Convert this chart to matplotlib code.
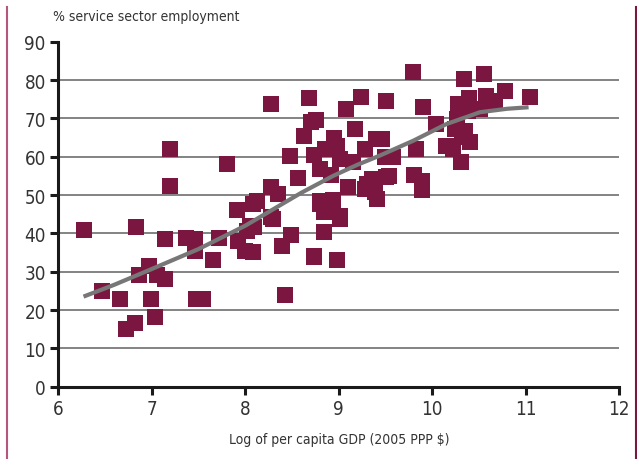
import matplotlib
matplotlib.use("Agg")
import matplotlib.pyplot as plt
from matplotlib import font_manager
from matplotlib.lines import Line2D

# pick a narrow face if one is installed (the original uses a condensed font)
names = {f.name for f in font_manager.fontManager.ttflist}
narrow = [f for f in font_manager.fontManager.ttflist
          if 'Narrow' in f.name or 'Condensed' in f.name or str(f.stretch) in ('condensed', 'semi-condensed', '700', '500')]
if 'Liberation Sans Narrow' in names:
    fam, stretch = 'Liberation Sans Narrow', 'normal'
elif narrow:
    fam, stretch = narrow[0].name, 'condensed'
else:
    fam, stretch = 'DejaVu Sans', 'normal'
plt.rcParams['font.family'] = [fam, 'DejaVu Sans']
plt.rcParams['font.stretch'] = stretch

# log per capita GDP vs % service sector employment
gdp = [6.28, 6.47, 6.66, 6.72, 6.82, 6.83, 6.86, 6.97, 6.99, 7.03, 7.06, 7.14,
       7.14, 7.19, 7.20, 7.37, 7.46, 7.46, 7.47, 7.55, 7.65, 7.72, 7.80, 7.91,
       7.92, 8.00, 8.02, 8.05, 8.08, 8.08, 8.09, 8.12, 8.27, 8.27, 8.27, 8.30,
       8.35, 8.39, 8.42, 8.48, 8.49, 8.56, 8.63, 8.68, 8.70, 8.73, 8.73, 8.74,
       8.76, 8.80, 8.80, 8.80, 8.84, 8.84, 8.85, 8.92, 8.94, 8.95, 8.98, 8.98,
       9.01, 9.01, 9.01, 9.08, 9.10, 9.15, 9.17, 9.24, 9.28, 9.28, 9.30, 9.35,
       9.39, 9.40, 9.41, 9.46, 9.49, 9.51, 9.51, 9.54, 9.58, 9.79, 9.80, 9.83,
       9.89, 9.89, 9.90, 10.04, 10.15, 10.22, 10.24, 10.26, 10.28, 10.31, 10.32,
       10.34, 10.35, 10.38, 10.39, 10.40, 10.51, 10.55, 10.57, 10.67, 10.78, 11.05]
service = [41.0, 25.0, 22.9, 15.1, 16.6, 41.7, 29.1, 31.4, 22.9, 18.3, 29.1, 28.1,
           38.5, 52.4, 62.0, 38.9, 38.5, 35.5, 22.9, 22.9, 33.1, 38.9, 58.1, 46.1,
           38.1, 35.5, 40.7, 42.0, 47.7, 35.2, 41.6, 48.5, 73.7, 52.0, 44.2, 43.7,
           50.3, 36.8, 23.9, 60.1, 39.6, 54.5, 65.5, 75.3, 69.0, 60.4, 34.0, 33.9,
           69.7, 56.8, 48.5, 47.7, 45.5, 40.3, 62.0, 55.1, 48.8, 64.9, 62.9, 33.1,
           59.4, 44.6, 43.7, 72.4, 52.0, 58.5, 67.2, 75.5, 62.0, 51.6, 52.9, 54.2,
           50.7, 64.6, 49.0, 64.6, 59.9, 74.6, 54.6, 54.9, 60.0, 82.2, 55.1, 62.0,
           53.7, 51.4, 73.0, 68.5, 62.7, 62.0, 67.2, 69.8, 73.8, 58.7, 65.1,
           80.3, 66.8, 72.0, 75.3, 63.8, 72.4, 81.6, 75.8, 74.6, 77.2, 75.7]

# fitted curve
trend_x = [6.27, 6.6, 7.0, 7.5, 8.0, 8.3, 8.6, 8.94, 9.2, 9.44, 9.8, 10.15, 10.51, 10.8, 11.03]
trend_y = [23.5, 26.6, 30.7, 35.9, 42.0, 46.3, 50.6, 55.0, 57.9, 60.3, 64.2, 68.5, 71.6, 72.5, 72.9]

fig = plt.figure(figsize=(6.37, 4.60), dpi=100)
ax = fig.add_axes([0.0915, 0.1572, 0.8807, 0.75])

ax.scatter(gdp, service, marker='s', s=135, color='#7b1640', linewidths=0, zorder=3)
ax.plot(trend_x, trend_y, color='#777777', lw=3, solid_capstyle='butt', zorder=4)

ax.set_xlim(6, 12)
ax.set_ylim(0, 90)
ax.set_xticks(range(6, 13))
ax.set_yticks(range(0, 91, 10))
for yv in range(10, 90, 10):
    ax.axhline(yv, color='#6e6e6e', lw=1.2, zorder=1)

for s in ['top', 'right']:
    ax.spines[s].set_visible(False)
for s in ['left', 'bottom']:
    ax.spines[s].set_linewidth(2.2)
    ax.spines[s].set_color('#1a1a1a')
ax.tick_params(axis='both', direction='out', length=6, width=2.2, color='#1a1a1a',
               labelsize=13.5, labelcolor='#333333', pad=3)

ax.set_xlabel('Log of per capita GDP (2005 PPP $)', fontsize=10, color='#333333', labelpad=10)
fig.text(0.083, 0.962, '% service sector employment', fontsize=10, color='#333333',
         ha='left', va='center')

# side rules of the panel
fig.add_artist(Line2D([0.011, 0.011], [0, 0.983], color='#b4577e', lw=1.5))
fig.add_artist(Line2D([0.998, 0.998], [0, 0.983], color='#7b1640', lw=1.5))

fig.savefig('out.png', dpi=100)
